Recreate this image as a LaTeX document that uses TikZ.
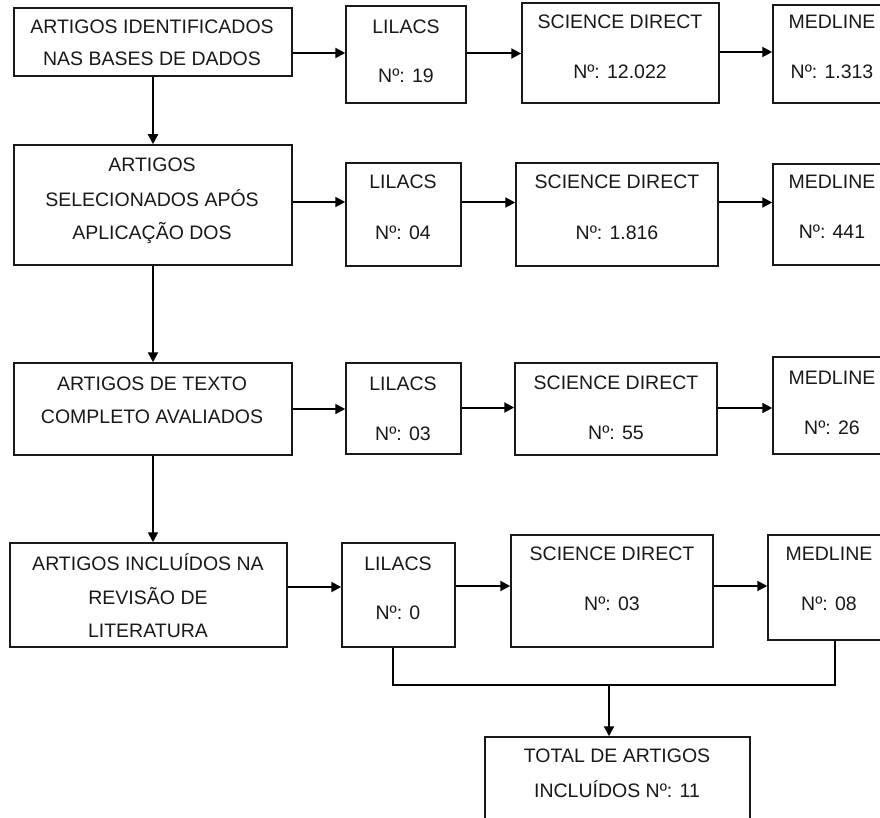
\documentclass[tikz,border=0pt]{standalone}
\usepackage{fontspec}
\setmainfont{Liberation Sans}
\usetikzlibrary{arrows.meta,fit}
\tikzset{
  box/.style={draw=black!90, line width=1.5pt, inner sep=0pt, fit={#1}},
  lbl/.style={font=\fontsize{19.5}{23}\selectfont, text=black!90, inner sep=0pt, text height=14pt, text depth=0pt},
  conn/.style={line width=2pt, draw=black},
  arr/.style={conn, -{Triangle[length=10pt,width=10pt]}},
}
\begin{document}
\begin{tikzpicture}[x=1pt,y=-1pt]
\useasboundingbox (0,0) rectangle (880,818);
\clip (0,0) rectangle (880,818);
\fill[white] (0,0) rectangle (880,818);

% Row 1
\node[box={(14,8) (292,76)}] (a1) {};
\node[lbl] (a1t1) at (152,27) {ARTIGOS IDENTIFICADOS};
\node[lbl] (a1t2) at (152,59) {NAS BASES DE DADOS};
\node[box={(346,6) (466,103)}] (l1) {};
\node[lbl] (l1t1) at (406,27) {LILACS};
\node[lbl] (l1t2) at (406,76) {Nº: 19};
\node[box={(522,3) (719,103)}] (s1) {};
\node[lbl] (s1t1) at (620,22) {SCIENCE DIRECT};
\node[lbl] (s1t2) at (620,72) {Nº: 12.022};
\node[box={(773,5) (891,103)}] (m1) {};
\node[lbl] (m1t1) at (832,22) {MEDLINE};
\node[lbl] (m1t2) at (832,72) {Nº: 1.313};

% Row 2
\node[box={(14,145) (292,265)}] (a2) {};
\node[lbl] (a2t1) at (152,165) {ARTIGOS};
\node[lbl] (a2t2) at (152,200) {SELECIONADOS APÓS};
\node[lbl] (a2t3) at (152,233) {APLICAÇÃO DOS};
\node[box={(346,163) (461,266)}] (l2) {};
\node[lbl] (l2t1) at (403,182) {LILACS};
\node[lbl] (l2t2) at (403,233) {Nº: 04};
\node[box={(516,163) (718,266)}] (s2) {};
\node[lbl] (s2t1) at (617,182) {SCIENCE DIRECT};
\node[lbl] (s2t2) at (617,233) {Nº: 1.816};
\node[box={(773,164) (891,265)}] (m2) {};
\node[lbl] (m2t1) at (832,182) {MEDLINE};
\node[lbl] (m2t2) at (832,232) {Nº: 441};

% Row 3
\node[box={(14,363) (292,455)}] (a3) {};
\node[lbl] (a3t1) at (152,383) {ARTIGOS DE TEXTO};
\node[lbl] (a3t2) at (152,416) {COMPLETO AVALIADOS};
\node[box={(346,363) (461,454)}] (l3) {};
\node[lbl] (l3t1) at (403,383) {LILACS};
\node[lbl] (l3t2) at (403,433) {Nº: 03};
\node[box={(515,363) (717,455)}] (s3) {};
\node[lbl] (s3t1) at (616,382) {SCIENCE DIRECT};
\node[lbl] (s3t2) at (616,432) {Nº: 55};
\node[box={(773,357) (891,454)}] (m3) {};
\node[lbl] (m3t1) at (832,377) {MEDLINE};
\node[lbl] (m3t2) at (832,427) {Nº: 26};

% Row 4
\node[box={(10,543) (287,647)}] (a4) {};
\node[lbl] (a4t1) at (148,563) {ARTIGOS INCLUÍDOS NA};
\node[lbl] (a4t2) at (148,597) {REVISÃO DE};
\node[lbl] (a4t3) at (148,630) {LITERATURA};
\node[box={(342,543) (455,647)}] (l4) {};
\node[lbl] (l4t1) at (398,563) {LILACS};
\node[lbl] (l4t2) at (398,612) {Nº: 0};
\node[box={(511,535) (713,647)}] (s4) {};
\node[lbl] (s4t1) at (612,553) {SCIENCE DIRECT};
\node[lbl] (s4t2) at (612,603) {Nº: 03};
\node[box={(768,535) (891,640)}] (m4) {};
\node[lbl] (m4t1) at (829,553) {MEDLINE};
\node[lbl] (m4t2) at (829,603) {Nº: 08};

% Total
\node[box={(485,737) (750,830)}] (tot) {};
\node[lbl] (tott1) at (617,755) {TOTAL DE ARTIGOS};
\node[lbl] (tott2) at (617,790) {INCLUÍDOS Nº: 11};

% Horizontal arrows
\draw[arr] ([yshift=-11pt]a1.east) -- ([yshift=-11pt]a1.east -| l1.west);
\draw[arr] ([yshift=1pt]l1.east) -- ([yshift=1pt]l1.east -| s1.west);
\draw[arr] ([yshift=1pt]s1.east) -- ([yshift=1pt]s1.east -| m1.west);

\draw[arr] ([yshift=3pt]a2.east) -- ([yshift=3pt]a2.east -| l2.west);
\draw[arr] ([yshift=12pt]l2.east) -- ([yshift=12pt]l2.east -| s2.west);
\draw[arr] ([yshift=12pt]s2.east) -- ([yshift=12pt]s2.east -| m2.west);

\draw[arr] (a3.east) -- (a3.east -| l3.west);
\draw[arr] ([yshift=1pt]l3.east) -- ([yshift=1pt]l3.east -| s3.west);
\draw[arr] ([yshift=1pt]s3.east) -- ([yshift=1pt]s3.east -| m3.west);

\draw[arr] ([yshift=8pt]a4.east) -- ([yshift=8pt]a4.east -| l4.west);
\draw[arr] ([yshift=9pt]l4.east) -- ([yshift=9pt]l4.east -| s4.west);
\draw[arr] ([yshift=5pt]s4.east) -- ([yshift=5pt]s4.east -| m4.west);

% Vertical arrows
\draw[arr] (a1.south) -- (a1.south |- a2.north);
\draw[arr] (a2.south) -- (a2.south |- a3.north);
\draw[arr] (a3.south) -- (a3.south |- a4.north);

% Join to total
\coordinate (j1) at (393,685);
\coordinate (j2) at (835,685);
\coordinate (jm) at (609,685);
\draw[conn] (l4.south -| j1) -- (j1) -- (j2) -- (j2 |- m4.south);
\draw[arr] (jm) -- (jm |- tot.north);
\end{tikzpicture}
\end{document}
